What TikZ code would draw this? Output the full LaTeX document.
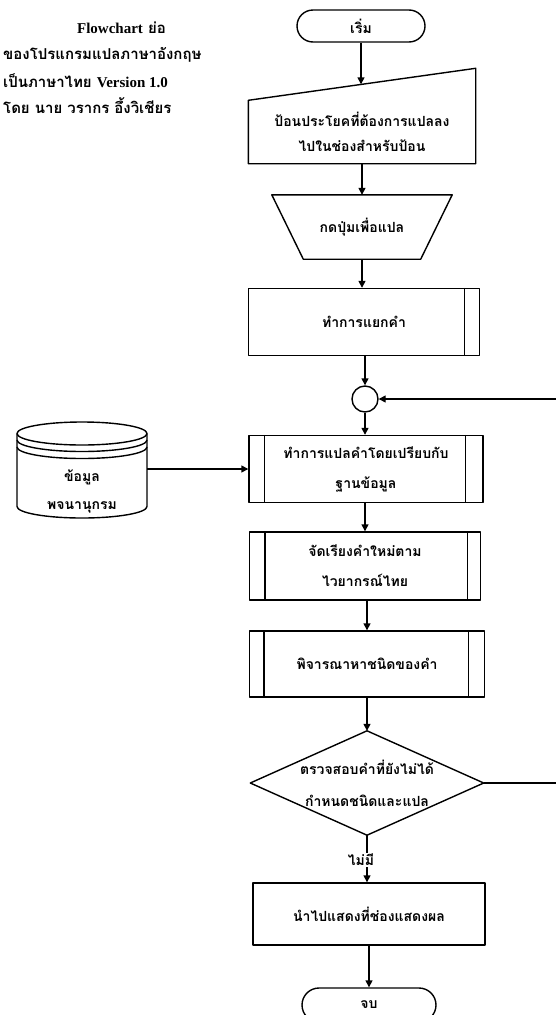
\documentclass[tikz,border=0pt]{standalone}
\usepackage{fontspec}
\newfontfamily\thai[Script=Thai]{Loma}
\newfontfamily\lat{Liberation Serif}
\usetikzlibrary{arrows.meta,calc}
\tikzset{
  ln/.style={line width=1.4pt, line join=round},
  arr/.style={ln, -{Triangle[width=7pt,length=7pt]}},
  box/.style={draw, ln, rectangle, inner sep=0pt, align=center,
    font=\thai\bfseries\fontsize{14}{25}\selectfont},
  txt/.style={inner sep=0pt, align=center, font=\thai\bfseries\fontsize{14}{25}\selectfont},
  term/.style={box, rounded corners=16pt},
  ttl/.style={inner sep=0pt, anchor=west, font=\thai\bfseries\fontsize{15}{18}\selectfont},
}
\begin{document}
\begin{tikzpicture}[x=1pt,y=-1pt]
\useasboundingbox (0,0) rectangle (556,1015);
\fill[white] (0,0) rectangle (556,1015);

% title
\node[ttl, anchor=east] (t1) at (166,28) {{\lat Flowchart} ย่อ};
\node[ttl] (t2) at (3,55) {ของโปรแกรมแปลภาษาอังกฤษ};
\node[ttl] (t3) at (3,81) {เป็นภาษาไทย {\lat Version 1.0}};
\node[ttl] (t4) at (3,106) {โดย นาย วรากร อึ้งวิเชียร};

% start
\node[term, minimum width=128pt, minimum height=32pt] (start) at (361,26) {เริ่ม};

% manual input
\node[txt, minimum width=227pt, minimum height=63pt] (inp) at (362,132) {ป้อนประโยคที่ต้องการแปลลง\\ไปในช่องสำหรับป้อน};
\draw[ln] (inp.south west) -- (inp.north west) -- ($(inp.north east)+(0,-32)$) -- (inp.south east) -- cycle;
\coordinate (inpTop) at ($(inp.north)+(0,-16)$);

% manual operation
\node[txt, minimum width=180pt, minimum height=64pt] (trap) at (362,227) {กดปุ่มเพื่อแปล};
\draw[ln] (trap.north west) -- (trap.north east) -- ($(trap.south east)+(-31.5,0)$) -- ($(trap.south west)+(31.5,0)$) -- cycle;

% process 1
\node[box, minimum width=231pt, minimum height=67pt] (p1) at (364,322) {ทำการแยกคำ};
\draw[ln] ($(p1.north east)+(-16,0)$) -- ($(p1.south east)+(-16,0)$);

% connector
\node[draw, ln, circle, minimum size=26pt, inner sep=0pt] (circ) at (365,399) {};

% process 2
\node[box, minimum width=234pt, minimum height=67pt, font=\thai\bfseries\fontsize{14}{30}\selectfont] (p2) at (366,469) {ทำการแปลคำโดยเปรียบกับ\\ฐานข้อมูล};
\draw[ln] ($(p2.north west)+(16,0)$) -- ($(p2.south west)+(16,0)$);
\draw[ln] ($(p2.north east)+(-18,0)$) -- ($(p2.south east)+(-18,0)$);

% database
\node[inner sep=0pt, minimum width=130pt, minimum height=97pt] (db) at (82,469) {};
\draw[ln] (82,433.5) ellipse[x radius=65, y radius=11.5];
\draw[ln] (17,433.5) -- (17,506.5) arc[start angle=180, end angle=0, x radius=65, y radius=11.5] -- (147,433.5);
\draw[ln] (17,440) arc[start angle=180, end angle=0, x radius=65, y radius=11.5];
\draw[ln] (17,447) arc[start angle=180, end angle=0, x radius=65, y radius=11.5];
\node[txt] (dbt1) at (82,477) {ข้อมูล};
\node[txt] (dbt2) at (82,507) {พจนานุกรม};

% process 3
\node[box, minimum width=231pt, minimum height=68pt, font=\thai\bfseries\fontsize{14}{30}\selectfont] (p3) at (365,566) {จัดเรียงคำใหม่ตาม\\ไวยากรณ์ไทย};
\draw[ln] ($(p3.north west)+(16,0)$) -- ($(p3.south west)+(16,0)$);
\draw[ln] ($(p3.north east)+(-14,0)$) -- ($(p3.south east)+(-14,0)$);

% process 4
\node[box, minimum width=235pt, minimum height=66pt] (p4) at (367,664) {พิจารณาหาชนิดของคำ};
\draw[ln] ($(p4.north west)+(15,0)$) -- ($(p4.south west)+(15,0)$);
\draw[ln] ($(p4.north east)+(-17,0)$) -- ($(p4.south east)+(-17,0)$);

% decision
\node[txt, minimum width=233pt, minimum height=104pt, font=\thai\bfseries\fontsize{14}{32}\selectfont] (dec) at (367,783) {ตรวจสอบคำที่ยังไม่ได้\\กำหนดชนิดและแปล};
\draw[ln] (dec.west) -- (dec.north) -- (dec.east) -- (dec.south) -- cycle;

% output
\node[box, minimum width=232pt, minimum height=62pt] (out) at (369,914) {นำไปแสดงที่ช่องแสดงผล};

% end
\node[term, minimum width=134pt, minimum height=34pt, rounded corners=17pt] (end) at (369,1005) {จบ};

% connectors
\draw[arr] (start.south) -- (start.south |- inpTop);
\draw[arr] (inp.south) -- (inp.south |- trap.north);
\draw[arr] (trap.south) -- (trap.south |- p1.north);
\draw[arr] (p1.south -| circ.north) -- (circ.north);
\draw[arr] (circ.south) -- (circ.south |- p2.north);
\draw[arr] (p2.south -| p3.north) -- (p3.north);
\draw[arr] (p3.south -| p4.north) -- (p4.north);
\draw[arr] (p4.south -| dec.north) -- (dec.north);
\draw[arr] (dec.south) -- node[pos=0.52, fill=white, inner sep=1pt, font=\thai\bfseries\fontsize{14}{17}\selectfont, xshift=-6pt] (no) {ไม่มี} (dec.south |- out.north);
\draw[arr] (out.south) -- (out.south |- end.north);
\draw[arr] (db.east) -- (db.east -| p2.west);
\coordinate (loopA) at (562,783);
\coordinate (loopB) at (562,399);
\draw[arr] (dec.east) -- (loopA) -- (loopB) -- (circ.east);
\end{tikzpicture}
\end{document}
